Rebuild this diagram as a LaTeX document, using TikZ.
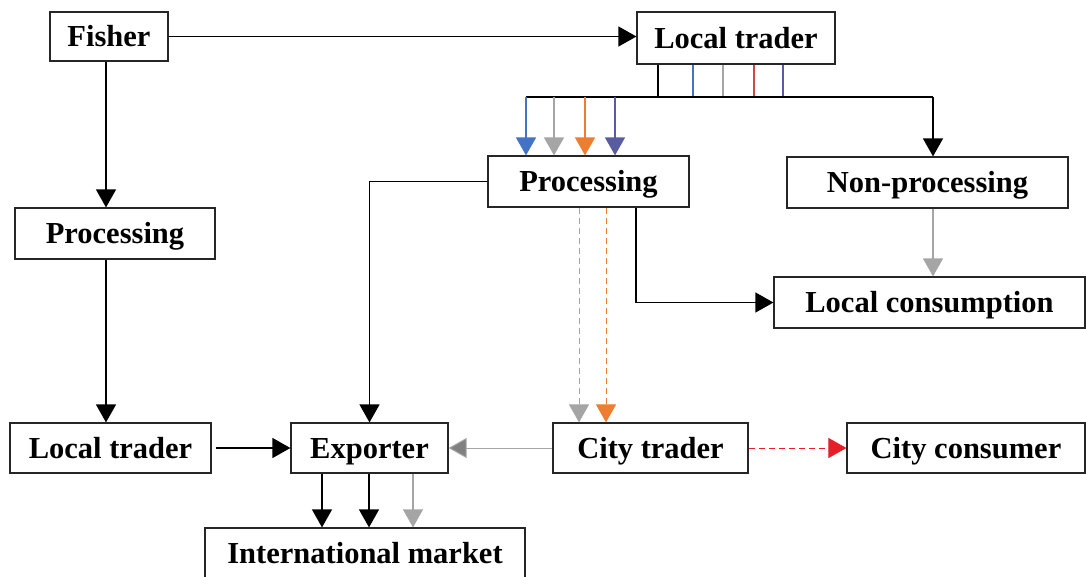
\documentclass[tikz,border=0pt]{standalone}
\usepackage{fontspec}
\setmainfont{Liberation Serif}
\usetikzlibrary{arrows.meta}
\definecolor{cblue}{RGB}{68,114,196}
\definecolor{cgray}{RGB}{165,165,165}
\definecolor{corange}{RGB}{237,125,49}
\definecolor{cslate}{RGB}{90,92,160}
\definecolor{cred}{RGB}{210,70,70}
\definecolor{cdred}{RGB}{230,30,40}
\definecolor{cmgray}{RGB}{128,128,128}
\tikzset{
  box/.style={draw=black!85, line width=1.2pt, inner sep=0pt, text height=20pt, text depth=0pt, font=\fontsize{30.5}{34}\selectfont\bfseries},
  link/.style={line width=1.2pt, -{Triangle[width=20pt,length=18pt]}},
  seg/.style={line width=1.2pt},
  dash6/.style={dash pattern=on 6pt off 4pt},
}
\begin{document}
\begin{tikzpicture}[x=1pt,y=-1pt]
\useasboundingbox (0,0) rectangle (1086,576);
\node[box, minimum width=118pt, minimum height=49pt] (fisher) at (109,36.5) {Fisher};
\node[box, minimum width=198pt, minimum height=52pt] (lt1) at (736,38) {Local trader};
\node[box, minimum width=200pt, minimum height=51pt] (procL) at (115,233.5) {Processing};
\node[box, minimum width=201pt, minimum height=51pt] (procM) at (588.5,181.5) {Processing};
\node[box, minimum width=281pt, minimum height=51pt] (nonp) at (927.5,182.5) {Non-processing};
\node[box, minimum width=311pt, minimum height=51pt] (lcons) at (929.5,302.5) {Local consumption};
\node[box, minimum width=201pt, minimum height=50pt] (lt2) at (110.5,448) {Local trader};
\node[box, minimum width=157pt, minimum height=50pt] (exp) at (369.5,448) {Exporter};
\node[box, minimum width=195pt, minimum height=50pt] (ctr) at (650.5,448) {City trader};
\node[box, minimum width=238pt, minimum height=50pt] (ccons) at (966,448) {City consumer};
\node[box, minimum width=320pt, minimum height=50pt] (intl) at (365,553) {International market};

% junction coordinates
\coordinate (jl) at (526,97);
\coordinate (jr) at (933,97);

% Fisher connections
\draw[link] (fisher.east) -- (fisher.east -| lt1.west);
\draw[link] (106,0 |- fisher.south) -- (106,0 |- procL.north);
\draw[link] (106,0 |- procL.south) -- (106,0 |- lt2.north);
\draw[link] (lt2.east) ++(4,0) -- (exp.west);

% top trader splits
\draw[seg] (658,0 |- lt1.south) -- (658,0 |- jl);
\draw[seg, cblue] (693,0 |- lt1.south) -- (693,0 |- jl);
\draw[seg, cgray] (723,0 |- lt1.south) -- (723,0 |- jl);
\draw[seg, cred] (754,0 |- lt1.south) -- (754,0 |- jl);
\draw[seg, cslate] (783,0 |- lt1.south) -- (783,0 |- jl);
\draw[seg] (jl) -- (jr);
\draw[link] (jr) -- (jr |- nonp.north);
\draw[link, cblue] (jl) -- (jl |- procM.north);
\draw[link, cgray] (554,0 |- jl) -- (554,0 |- procM.north);
\draw[link, corange] (585,0 |- jl) -- (585,0 |- procM.north);
\draw[link, cslate] (615,0 |- jl) -- (615,0 |- procM.north);

% Processing middle
\draw[link] (procM.west) -| (exp.north);
\draw[link] (636,0 |- procM.south) |- (lcons.west);
\draw[link, cgray, dash6, line width=1pt] (579,0 |- procM.south) -- (579,0 |- ctr.north);
\draw[link, corange, dash6, line width=1pt] (606,0 |- procM.south) -- (606,0 |- ctr.north);
\draw[link, cgray] (933,0 |- nonp.south) -- (933,0 |- lcons.north);

% City trader
\draw[link, cgray, line width=1pt, -{Triangle[width=20pt,length=18pt,fill=cmgray]}] (ctr.west) -- (exp.east);
\draw[link, cdred, dash6, line width=1pt] (ctr.east) -- (ccons.west);

% Exporter to international
\draw[link] (322,0 |- exp.south) -- (322,0 |- intl.north);
\draw[link] (369,0 |- exp.south) -- (369,0 |- intl.north);
\draw[link, cgray] (413,0 |- exp.south) -- (413,0 |- intl.north);
\end{tikzpicture}
\end{document}
